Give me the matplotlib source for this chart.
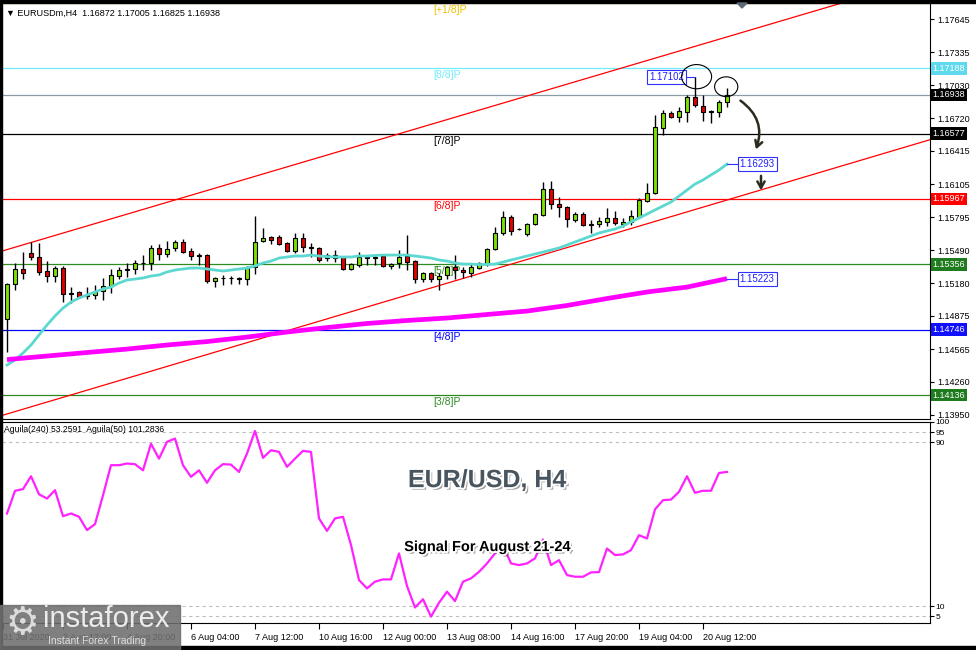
import numpy as np
import matplotlib.pyplot as plt
import matplotlib.patheffects as pe
from matplotlib.patches import Rectangle, Ellipse, Polygon

plt.rcParams['font.family'] = ['Liberation Sans', 'DejaVu Sans']
plt.rcParams['font.size'] = 6.5

# H4 bars, bar 0 = first bar on screen
opens = [1.14846, 1.15172, 1.15313, 1.15462, 1.15425, 1.15294, 1.15247, 1.15322, 1.15088, 1.15098,
         1.15070, 1.15070, 1.15107, 1.15154, 1.15247, 1.15303, 1.15313, 1.15369, 1.15369, 1.15509,
         1.15453, 1.15509, 1.15565, 1.15481, 1.15443, 1.15443, 1.15201, 1.15229, 1.15229, 1.15229,
         1.15219, 1.15331, 1.15574, 1.15611, 1.15611, 1.15555, 1.15481, 1.15602, 1.15518, 1.15509,
         1.15415, 1.15443, 1.15425, 1.15313, 1.15350, 1.15425, 1.15415, 1.15434, 1.15341, 1.15369,
         1.15434, 1.15387, 1.15219, 1.15275, 1.15219, 1.15257, 1.15331, 1.15303, 1.15275, 1.15322,
         1.15359, 1.15499, 1.15649, 1.15798, 1.15686, 1.15639, 1.15733, 1.15817, 1.16060, 1.15920,
         1.15892, 1.15770, 1.15826, 1.15733, 1.15733, 1.15752, 1.15789, 1.15733, 1.15752, 1.15798,
         1.15948, 1.16022, 1.16630, 1.16770, 1.16732, 1.16779, 1.16919, 1.16835, 1.16788, 1.16779,
         1.16872]
highs = [1.15182, 1.15369, 1.15471, 1.15565, 1.15555, 1.15387, 1.15341, 1.15341, 1.15144, 1.15107,
         1.15144, 1.15163, 1.15229, 1.15313, 1.15331, 1.15369, 1.15397, 1.15443, 1.15537, 1.15546,
         1.15574, 1.15583, 1.15593, 1.15509, 1.15462, 1.15453, 1.15238, 1.15257, 1.15247, 1.15238,
         1.15341, 1.15808, 1.15696, 1.15621, 1.15630, 1.15565, 1.15649, 1.15649, 1.15555, 1.15518,
         1.15462, 1.15490, 1.15434, 1.15369, 1.15471, 1.15443, 1.15443, 1.15443, 1.15369, 1.15490,
         1.15630, 1.15397, 1.15285, 1.15285, 1.15275, 1.15341, 1.15443, 1.15331, 1.15369, 1.15378,
         1.15509, 1.15705, 1.15854, 1.15817, 1.15696, 1.15742, 1.15836, 1.16125, 1.16134, 1.15985,
         1.15901, 1.15845, 1.15845, 1.15770, 1.15798, 1.15882, 1.15854, 1.15789, 1.15864, 1.15976,
         1.16116, 1.16751, 1.16798, 1.16788, 1.16826, 1.16938, 1.17102, 1.16938, 1.16798, 1.16891,
         1.17005]
lows = [1.14537, 1.15116, 1.15219, 1.15397, 1.15257, 1.15191, 1.15191, 1.15004, 1.14995, 1.15042,
        1.15032, 1.15032, 1.15023, 1.15088, 1.15219, 1.15238, 1.15266, 1.15303, 1.15303, 1.15397,
        1.15425, 1.15481, 1.15462, 1.15397, 1.15350, 1.15182, 1.15144, 1.15163, 1.15172, 1.15172,
        1.15163, 1.15266, 1.15565, 1.15546, 1.15537, 1.15471, 1.15462, 1.15471, 1.15425, 1.15378,
        1.15387, 1.15378, 1.15303, 1.15303, 1.15331, 1.15350, 1.15350, 1.15331, 1.15313, 1.15322,
        1.15303, 1.15182, 1.15191, 1.15191, 1.15116, 1.15219, 1.15219, 1.15229, 1.15238, 1.15313,
        1.15341, 1.15490, 1.15630, 1.15630, 1.15677, 1.15621, 1.15724, 1.15808, 1.15873, 1.15798,
        1.15705, 1.15752, 1.15714, 1.15649, 1.15705, 1.15714, 1.15724, 1.15705, 1.15724, 1.15798,
        1.15938, 1.16013, 1.16564, 1.16723, 1.16686, 1.16686, 1.16826, 1.16695, 1.16676, 1.16732,
        1.16825]
closes = [1.15172, 1.15313, 1.15275, 1.15425, 1.15285, 1.15247, 1.15322, 1.15079, 1.15079, 1.15051,
          1.15065, 1.15098, 1.15154, 1.15257, 1.15303, 1.15313, 1.15369, 1.15373, 1.15509, 1.15453,
          1.15499, 1.15565, 1.15471, 1.15434, 1.15434, 1.15201, 1.15229, 1.15225, 1.15232, 1.15219,
          1.15322, 1.15565, 1.15602, 1.15583, 1.15546, 1.15481, 1.15602, 1.15518, 1.15509, 1.15397,
          1.15443, 1.15415, 1.15313, 1.15359, 1.15425, 1.15415, 1.15425, 1.15341, 1.15359, 1.15425,
          1.15378, 1.15219, 1.15275, 1.15219, 1.15247, 1.15331, 1.15303, 1.15285, 1.15331, 1.15369,
          1.15499, 1.15649, 1.15798, 1.15668, 1.15682, 1.15733, 1.15826, 1.16060, 1.15920, 1.15892,
          1.15780, 1.15826, 1.15724, 1.15724, 1.15761, 1.15789, 1.15742, 1.15752, 1.15808, 1.15957,
          1.16022, 1.16639, 1.16770, 1.16732, 1.16788, 1.16919, 1.16844, 1.16779, 1.16779, 1.16872,
          1.16938]

# fast moving average (turquoise), one value per bar
ma_fast = [1.14416, 1.14463, 1.14528, 1.14603, 1.14696, 1.14790, 1.14874, 1.14948, 1.15004, 1.15042,
           1.15070, 1.15098, 1.15126, 1.15144, 1.15182, 1.15210, 1.15219, 1.15229, 1.15247, 1.15257,
           1.15285, 1.15303, 1.15313, 1.15322, 1.15322, 1.15313, 1.15303, 1.15294, 1.15303, 1.15313,
           1.15322, 1.15341, 1.15369, 1.15387, 1.15415, 1.15425, 1.15434, 1.15434, 1.15443, 1.15434,
           1.15429, 1.15425, 1.15425, 1.15425, 1.15434, 1.15434, 1.15439, 1.15443, 1.15443, 1.15443,
           1.15443, 1.15434, 1.15425, 1.15415, 1.15397, 1.15387, 1.15369, 1.15359, 1.15359, 1.15355,
           1.15355, 1.15359, 1.15378, 1.15397, 1.15415, 1.15434, 1.15453, 1.15471, 1.15490, 1.15509,
           1.15537, 1.15565, 1.15593, 1.15621, 1.15649, 1.15668, 1.15686, 1.15714, 1.15752, 1.15789,
           1.15826, 1.15864, 1.15901, 1.15938, 1.15994, 1.16050, 1.16106, 1.16144, 1.16191, 1.16237,
           1.16293]

# slow moving average (magenta), read every 5 bars
ma_slow_bars = [0, 5, 10, 15, 20, 25, 30, 35, 40, 45, 50, 55, 60, 65, 70, 75, 80, 85, 90]
ma_slow = [1.14467, 1.14500, 1.14533, 1.14565, 1.14603, 1.14635, 1.14677, 1.14724, 1.14766, 1.14804,
           1.14832, 1.14855, 1.14888, 1.14920, 1.14972, 1.15037, 1.15098, 1.15144, 1.15223]

# Aguila(240) oscillator
aguila = [55.2, 66.3, 67.1, 73.4, 64.6, 62.5, 66.6, 53.9, 55.2, 53.6,
          47.1, 50.0, 64.1, 78.8, 78.8, 79.6, 79.3, 76.3, 89.3, 82.0,
          90.2, 91.8, 78.8, 73.1, 76.3, 70.2, 76.3, 79.3, 79.1, 75.5,
          84.5, 95.5, 82.4, 86.1, 85.3, 78.0, 82.0, 85.8, 85.3, 52.8,
          46.7, 52.8, 53.6, 39.8, 22.7, 18.6, 21.9, 23.0, 23.0, 35.7,
          19.8, 9.3, 13.3, 4.8, 11.6, 17.0, 12.4, 21.9, 23.5, 26.7,
          30.8, 35.7, 39.8, 30.8, 30.0, 30.8, 33.3, 42.5, 30.0, 32.4,
          25.1, 24.3, 24.3, 26.4, 26.6, 38.1, 34.9, 35.2, 37.3, 44.6,
          43.0, 57.2, 61.7, 62.0, 65.8, 73.4, 65.3, 66.3, 66.3, 75.0,
          75.5]

# Murrey math levels
murrey_levels = [1.17799, 1.17188, 1.16577, 1.15967, 1.15356, 1.14746, 1.14136]
murrey_names = ['[+1/8]P', '[8/8]P', '[7/8]P', '[6/8]P', '[5/8]P', '[4/8]P', '[3/8]P']
murrey_colors = ['#f0c400', '#70ecff', 'black', '#ff0000', '#2e8b22', '#0000ff', '#2e8b22']
murrey_box = [None, '#5fd9ee', 'black', '#ff0000', '#1e7b1e', '#1010ff', '#1e7b1e']
bid_price = 1.16938

# regression channel anchors (bar, price)
channel_upper = [(0, 1.15494), (100, 1.17701)]
channel_lower = [(0, 1.13959), (100, 1.16179)]

price_ticks = [1.13950, 1.14260, 1.14565, 1.14875, 1.15180, 1.15490, 1.15795,
               1.16105, 1.16415, 1.16720, 1.17030, 1.17335, 1.17645]
time_ticks = [-0.5, 7, 15, 23, 31, 39, 47, 55, 63, 71, 79, 87]
time_labels = ['31 Jul 2020', '3 Aug 12:00', '4 Aug 20:00', '6 Aug 04:00', '7 Aug 12:00',
               '10 Aug 16:00', '12 Aug 00:00', '13 Aug 08:00', '14 Aug 16:00',
               '17 Aug 20:00', '19 Aug 04:00', '20 Aug 12:00']

W, H = 976, 650
fig = plt.figure(figsize=(W / 100, H / 100), dpi=100, facecolor='white')


def fx(px):
    return px / W


def fy(py):
    return 1 - py / H


ax = fig.add_axes([fx(2), fy(419), fx(930) - fx(2), fy(3) - fy(419)])
ax_ind = fig.add_axes([fx(2), fy(623), fx(930) - fx(2), fy(422) - fy(623)], sharex=ax)

bars = np.arange(len(opens))
o, h, l, c = map(np.array, (opens, highs, lows, closes))
up = c >= o

# levels
for lev, name, col in zip(murrey_levels, murrey_names, murrey_colors):
    ax.axhline(lev, color=col, lw=0.9, zorder=1)
    ax.annotate(name, (53.25, lev), xytext=(0, -1.5), textcoords='offset points',
                color=col, fontsize=7.5, va='top', ha='left', zorder=2)
ax.axhline(bid_price, color='#8a9ba8', lw=0.9, zorder=1)

for p1, p2 in (channel_upper, channel_lower):
    ax.axline(p1, p2, color='#ff0000', lw=0.9, zorder=1)

# candles
ax.vlines(bars, l, h, color='black', lw=1, zorder=3)
ax.bar(bars, np.abs(c - o), bottom=np.minimum(o, c), width=0.62,
       color=np.where(up, '#7ce000', '#e00000'), edgecolor='black', linewidth=0.8, zorder=4)

ax.plot(bars, ma_fast, color='#5cd8d0', lw=2, zorder=5)
ax.plot(ma_slow_bars, ma_slow, color='#ff00ff', lw=3.4, zorder=5, solid_capstyle='butt')

# callouts
box = dict(boxstyle='square,pad=0.2', fc='white', ec='#3030ff', lw=0.8)
ax.plot([84.9, bars[86]], [highs[86], highs[86]], color='#3030ff', lw=0.8, zorder=6)
ax.text(84.6, highs[86], f'{highs[86]:.5f}', ha='right', va='center', color='#2020ff',
        fontsize=7, bbox=box, zorder=7)
for val in (ma_fast[-1], ma_slow[-1]):
    ax.plot([bars[-1], 91.3], [val, val], color='#3030ff', lw=0.8, zorder=6)
    ax.text(91.6, val, f'{val:.5f}', ha='left', va='center', color='#2020ff',
            fontsize=7, bbox=box, zorder=7)

ax.add_patch(Ellipse((86.2, 1.17109), 3.75, 0.00226, fill=False, ec='black', lw=0.8, zorder=7))
ax.add_patch(Ellipse((89.9, 1.17015), 2.9, 0.00185, fill=False, ec='black', lw=0.8, zorder=7))
arrow = dict(arrowstyle='->,head_length=0.7,head_width=0.4', color='#2b2b1e', lw=1.8)
ax.annotate('', xy=(93.5, 1.16405), xytext=(91.4, 1.16900),
            arrowprops=dict(connectionstyle='arc3,rad=-0.4', **arrow))
ax.annotate('', xy=(94.25, 1.16022), xytext=(94.25, 1.16209), arrowprops=arrow)

ax.text(0.004, 0.985, '\u25bc EURUSDm,H4  1.16872 1.17005 1.16825 1.16938',
        transform=ax.transAxes, va='top', ha='left', fontsize=6.5,
        family=['Liberation Sans', 'DejaVu Sans'])

ax.set_xlim(-0.625, 115.375)
ax.set_ylim(1.13912, 1.17797)
ax.yaxis.tick_right()
ax.set_yticks(price_ticks)
ax.set_yticklabels([f'{t:.5f}' for t in price_ticks])
ax.tick_params(axis='y', direction='out', length=3, width=0.8, pad=2, labelsize=6.5)
ax.tick_params(axis='x', bottom=False, labelbottom=False)
for s in ('left', 'top'):
    ax.spines[s].set_visible(False)

ytr = ax.get_yaxis_transform()
for lev, bg in zip(murrey_levels, murrey_box):
    if bg:
        ax.text(1.003, lev, f'{lev:.5f}', transform=ytr, ha='left', va='center', color='white',
                fontsize=6.5, bbox=dict(boxstyle='square,pad=0.2', fc=bg, ec='none'), zorder=8)
ax.text(1.003, bid_price, f'{bid_price:.5f}', transform=ytr, ha='left', va='center', color='white',
        fontsize=6.5, bbox=dict(boxstyle='square,pad=0.2', fc='black', ec='none'), zorder=8)

# indicator panel
for lev in (95, 90, 10, 5):
    ax_ind.axhline(lev, color='#bdbdbd', lw=0.8, ls=(0, (3, 3)), zorder=1)
ax_ind.plot(bars, aguila, color='#ff22ff', lw=1.6, zorder=3)
ax_ind.set_ylim(1.7, 99.9)
ax_ind.yaxis.tick_right()
ax_ind.set_yticks([5, 10, 90, 95, 99.9])
ax_ind.set_yticklabels(['5', '10', '90', '95', '100'])
ax_ind.tick_params(axis='y', direction='out', length=3, width=0.8, pad=1, labelsize=6)
ax_ind.set_xticks(time_ticks)
ax_ind.set_xticklabels(time_labels)
for lbl in ax_ind.get_xticklabels():
    lbl.set_horizontalalignment('left')
ax_ind.tick_params(axis='x', direction='out', length=4, width=0.8, pad=3, labelsize=6.5)
ax_ind.spines['left'].set_visible(False)
ax_ind.text(0.002, 0.985, 'Aguila(240) 53.2591  Aguila(50) 101.2836', transform=ax_ind.transAxes,
            va='top', ha='left', fontsize=6.2)

shadow = [pe.SimplePatchShadow(offset=(1.8, -1.8), shadow_rgbFace='#505050', alpha=0.55),
          pe.Stroke(linewidth=2.6, foreground='white'), pe.Normal()]
ax_ind.text(60, 71.5, 'EUR/USD, H4', ha='center', va='center', fontsize=18, weight='bold',
            color='#48555f', path_effects=shadow, zorder=6)
ax_ind.text(60.1, 38.8, 'Signal For August 21-24', ha='center', va='center', fontsize=10.5,
            weight='bold', color='black', path_effects=shadow, zorder=6)

# frame and logo
frame = dict(transform=fig.transFigure, color='black', zorder=10)
fig.patches.append(Rectangle((0, fy(3)), 1, 1 - fy(3), **frame))
fig.patches.append(Rectangle((0, 0), fx(2), 1, **frame))
fig.patches.append(Rectangle((0, 0), 1, fy(646), **frame))
fig.patches.append(Polygon([(fx(737), fy(3)), (fx(747), fy(3)), (fx(742), fy(8))],
                           closed=True, transform=fig.transFigure, color='#5a6a78', zorder=11))
fig.patches.append(Rectangle((0, 0), fx(180), fy(605), transform=fig.transFigure,
                             color='#6f6f6f', alpha=0.88, zorder=12))
fig.text(fx(22), fy(624), '\u2699', family='DejaVu Sans', fontsize=27, color='#dcdcdc',
         ha='center', va='center', zorder=13)
fig.text(fx(43), fy(619), 'instaforex', fontsize=21, color='#ececec', ha='left', va='center', zorder=13)
fig.text(fx(48), fy(641), 'Instant Forex Trading', fontsize=7.5, color='#dedede',
         ha='left', va='center', zorder=13)

fig.savefig('out.png', dpi=100, facecolor='white')
